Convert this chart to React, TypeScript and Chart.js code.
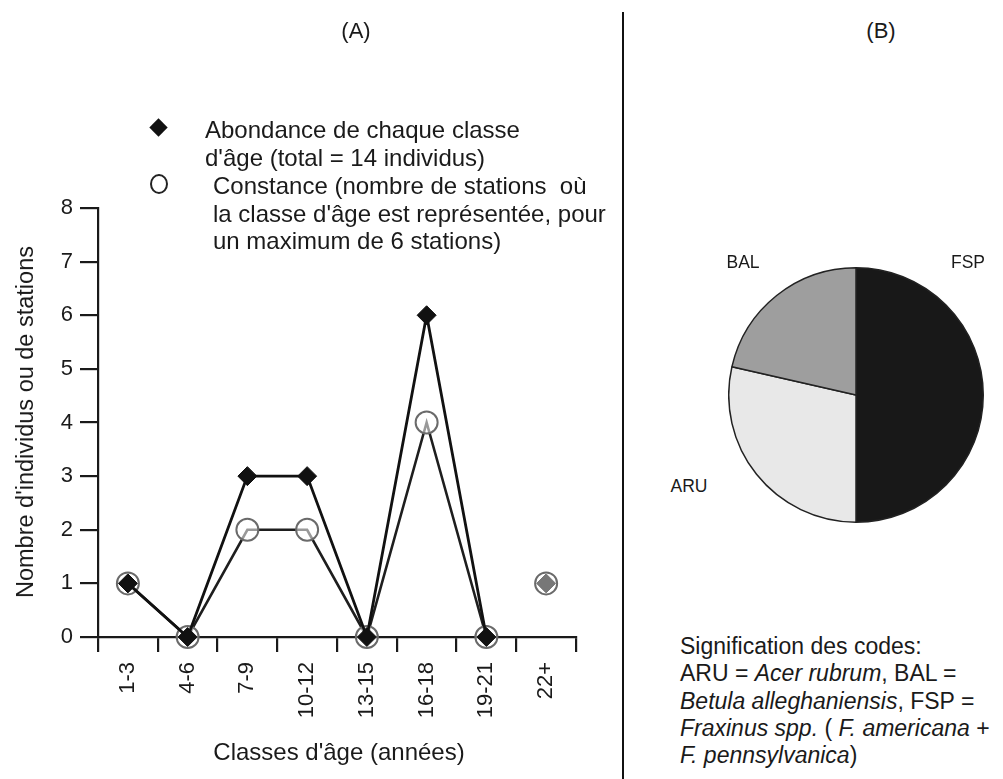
import React, { useEffect, useRef } from "react";
import { Chart, registerables } from "chart.js";

Chart.register(...registerables);

// ---- data ----
const ageClasses = ["1-3", "4-6", "7-9", "10-12", "13-15", "16-18", "19-21", "22+"];
const abondance = [1, 0, 3, 3, 0, 6, 0, 1];
const constance = [1, 0, 2, 2, 0, 4, 0, 1];
const yTickValues = [0, 1, 2, 3, 4, 5, 6, 7, 8];

const pieCodes = ["FSP", "ARU", "BAL"];
const pieCounts = [7, 4, 3];
const pieColors = ["#181818", "#e8e8e8", "#9e9e9e"];

const FONT = "'Liberation Sans', Arial, Helvetica, sans-serif";
const INK = "#1a1a1a";

function LineChart() {
  const ref = useRef<HTMLCanvasElement | null>(null);
  useEffect(() => {
    if (!ref.current) return;
    const lastIdx = ageClasses.length - 1;
    const chart = new Chart(ref.current, {
      type: "line",
      data: {
        labels: ageClasses,
        datasets: [
          {
            label: "Abondance",
            data: abondance,
            borderColor: "#111",
            borderWidth: 2.8,
            tension: 0,
            pointStyle: "rectRot",
            pointRadius: 9.5,
            pointBackgroundColor: abondance.map((_, i) => (i === lastIdx ? "#777" : "#111")),
            pointBorderColor: abondance.map((_, i) => (i === lastIdx ? "#777" : "#111")),
            pointBorderWidth: 1,
            clip: false,
            segment: {
              borderColor: (ctx: any) => (ctx.p1DataIndex === lastIdx ? "rgba(0,0,0,0)" : "#111"),
            },
          } as any,
          {
            label: "Constance",
            data: constance,
            borderColor: "#1e1e1e",
            borderWidth: 2.6,
            tension: 0,
            pointStyle: "circle",
            pointRadius: 11,
            pointBackgroundColor: "rgba(255,255,255,0.55)",
            pointBorderColor: "#6a6a6a",
            pointBorderWidth: 2,
            clip: false,
            segment: {
              borderColor: (ctx: any) => (ctx.p1DataIndex === lastIdx ? "rgba(0,0,0,0)" : "#1e1e1e"),
            },
          } as any,
        ],
      },
      options: {
        animation: false,
        responsive: false,
        events: [],
        layout: { padding: { left: 0, top: 208, right: 49, bottom: 0 } },
        plugins: { legend: { display: false }, tooltip: { enabled: false } },
        scales: {
          x: {
            offset: true,
            grid: {
              offset: true,
              drawOnChartArea: false,
              drawTicks: true,
              tickLength: 15,
              color: INK,
              lineWidth: 2.2,
            },
            border: { display: true, color: INK, width: 2.2 },
            ticks: {
              autoSkip: false,
              minRotation: 90,
              maxRotation: 90,
              padding: 10,
              color: INK,
              font: { family: FONT, size: 22 },
            },
            afterFit: (s: any) => {
              s.height = 142;
            },
          },
          y: {
            min: 0,
            max: 8,
            afterBuildTicks: (s: any) => {
              s.ticks = yTickValues.map((v) => ({ value: v }));
            },
            grid: {
              drawOnChartArea: false,
              drawTicks: true,
              tickLength: 18,
              color: INK,
              lineWidth: 2.2,
            },
            border: { display: true, color: INK, width: 2.2 },
            ticks: {
              padding: 7,
              color: INK,
              font: { family: FONT, size: 22 },
            },
            afterFit: (s: any) => {
              s.width = 98;
            },
          },
        },
      },
    });
    return () => chart.destroy();
  }, []);
  return (
    <canvas
      ref={ref}
      width={625}
      height={779}
      style={{ position: "absolute", left: 0, top: 0, width: 625, height: 779 }}
    />
  );
}

function PieChart() {
  const ref = useRef<HTMLCanvasElement | null>(null);
  useEffect(() => {
    if (!ref.current) return;
    const chart = new Chart(ref.current, {
      type: "pie",
      data: {
        labels: pieCodes,
        datasets: [
          {
            data: pieCounts,
            backgroundColor: pieColors,
            borderColor: "#222",
            borderWidth: 1.5,
          },
        ],
      },
      options: {
        animation: false,
        responsive: false,
        events: [],
        layout: { padding: 0 },
        plugins: { legend: { display: false }, tooltip: { enabled: false } },
      },
    });
    return () => chart.destroy();
  }, []);
  return (
    <canvas
      ref={ref}
      width={256}
      height={256}
      style={{ position: "absolute", left: 728, top: 267, width: 256, height: 256 }}
    />
  );
}

const textBase: React.CSSProperties = {
  position: "absolute",
  fontFamily: FONT,
  color: INK,
  whiteSpace: "pre",
};

export default function App() {
  return (
    <div
      style={{
        position: "absolute",
        left: 0,
        top: 0,
        width: 1003,
        height: 779,
        background: "#fff",
        overflow: "hidden",
      }}
    >
      <LineChart />
      <PieChart />

      {/* panel titles */}
      <div style={{ ...textBase, left: 306, width: 100, top: 18, fontSize: 22, lineHeight: "26px", textAlign: "center" }}>
        (A)
      </div>
      <div style={{ ...textBase, left: 831, width: 100, top: 18, fontSize: 22, lineHeight: "26px", textAlign: "center" }}>
        (B)
      </div>

      {/* divider */}
      <div style={{ position: "absolute", left: 622, top: 12, width: 2, height: 767, background: "#111" }} />

      {/* legend */}
      <div
        style={{
          position: "absolute",
          left: 152,
          top: 121,
          width: 13,
          height: 13,
          background: "#111",
          transform: "rotate(45deg)",
        }}
      />
      <div style={{ ...textBase, left: 205, top: 116, fontSize: 24, lineHeight: "27.5px" }}>
        {"Abondance de chaque classe\nd'âge (total = 14 individus)"}
      </div>
      <div
        style={{
          position: "absolute",
          left: 150,
          top: 174,
          width: 18,
          height: 20,
          border: "2px solid #222",
          borderRadius: "50%",
          boxSizing: "border-box",
        }}
      />
      <div style={{ ...textBase, left: 213, top: 172, fontSize: 24, lineHeight: "27.5px" }}>
        {"Constance (nombre de stations  où\nla classe d'âge est représentée, pour\nun maximum de 6 stations)"}
      </div>

      {/* axis titles */}
      <div
        style={{
          ...textBase,
          left: 25,
          top: 422,
          fontSize: 23.5,
          lineHeight: "28px",
          transform: "translate(-50%, -50%) rotate(-90deg)",
        }}
      >
        Nombre d'individus ou de stations
      </div>
      <div
        style={{
          ...textBase,
          left: 339,
          top: 752,
          fontSize: 24,
          lineHeight: "28px",
          transform: "translate(-50%, -50%)",
        }}
      >
        Classes d'âge (années)
      </div>

      {/* pie labels */}
      <div style={{ ...textBase, left: 743, top: 262, fontSize: 17.5, lineHeight: "20px", transform: "translate(-50%, -50%)" }}>
        BAL
      </div>
      <div style={{ ...textBase, left: 968, top: 262, fontSize: 17.5, lineHeight: "20px", transform: "translate(-50%, -50%)" }}>
        FSP
      </div>
      <div style={{ ...textBase, left: 689, top: 486, fontSize: 17.5, lineHeight: "20px", transform: "translate(-50%, -50%)" }}>
        ARU
      </div>

      {/* code legend */}
      <div style={{ ...textBase, left: 680, top: 633, fontSize: 23, lineHeight: "27.3px" }}>
        <div>Signification des codes:</div>
        <div>
          ARU = <i>Acer rubrum</i>, BAL =
        </div>
        <div>
          <i>Betula alleghaniensis</i>, FSP =
        </div>
        <div>
          <i>Fraxinus spp.</i> ( <i>F. americana</i> +
        </div>
        <div>
          <i>F. pennsylvanica</i>)
        </div>
      </div>
    </div>
  );
}
